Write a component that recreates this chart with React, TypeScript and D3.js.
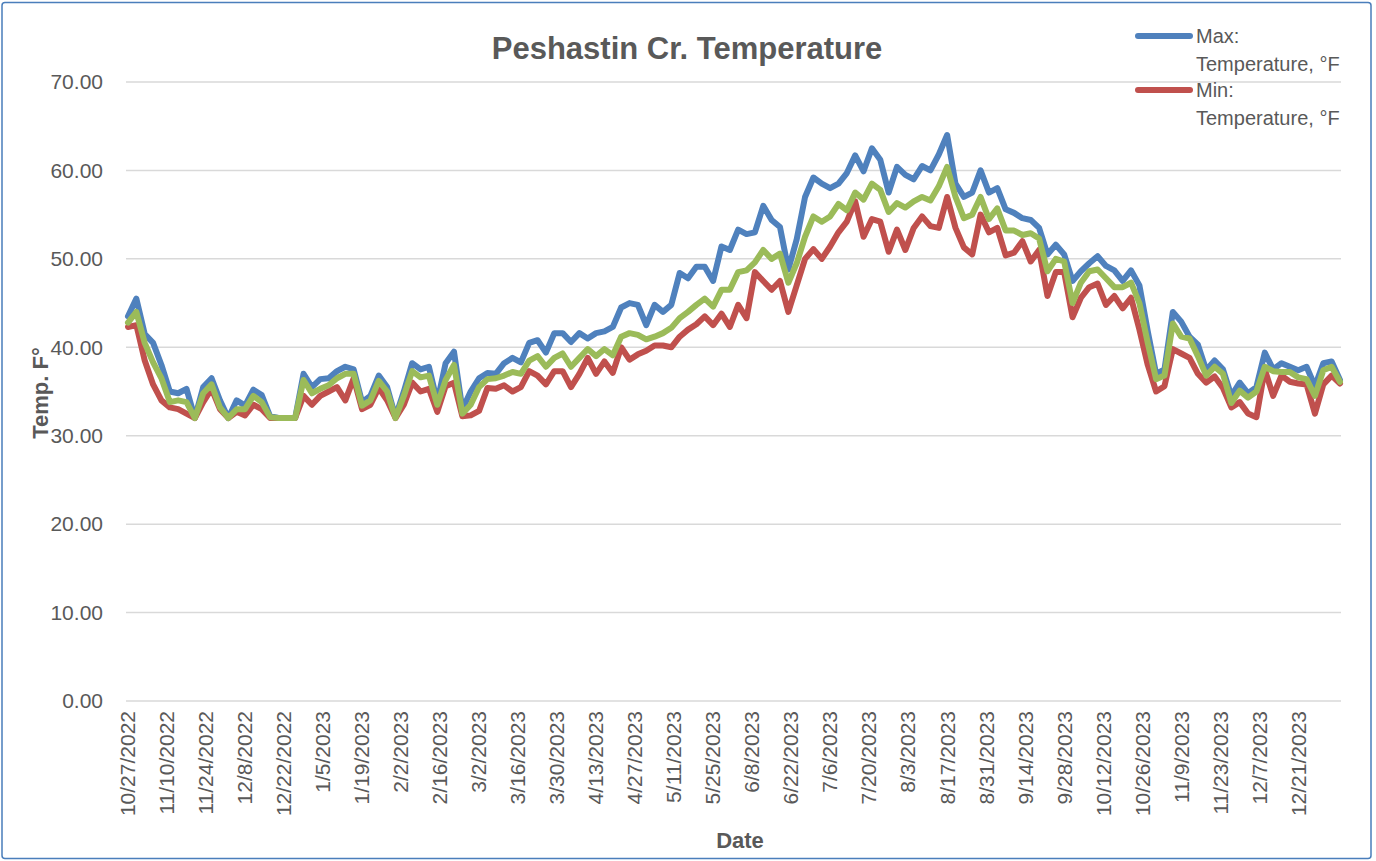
import React from "react";
import * as d3 from "d3";

const START_DATE = new Date(2022, 9, 27);
const STEP_DAYS = 3;
const END_OFFSET_DAYS = 435;
const TICK_STEP_DAYS = 14;
const TICK_COUNT = 31;
const Y_TICKS = [0, 10, 20, 30, 40, 50, 60, 70];

const maxTemp = [
  43.5, 45.5, 41.5, 40.5, 38.0, 35.0, 34.8, 35.3, 32.0, 35.5, 36.5, 34.0, 32.0, 34.0, 33.4, 35.2, 34.6, 32.2, 32.0, 32.0, 32.0, 37.0, 35.5, 36.4, 36.5, 37.3, 37.8, 37.5, 33.8, 34.5, 36.8, 35.5, 32.1, 35.0, 38.2, 37.5, 37.8,
  33.8, 38.2, 39.5, 33.0, 35.0, 36.5, 37.1, 37.0, 38.2, 38.8, 38.3, 40.5, 40.8, 39.4, 41.6, 41.6, 40.6, 41.6, 41.0, 41.6, 41.8, 42.3, 44.5, 45.0, 44.8, 42.5, 44.8, 44.0, 44.8, 48.4, 47.8, 49.1, 49.1, 47.5, 51.4, 51.0, 53.3,
  52.8, 53.0, 56.0, 54.4, 53.6, 48.8, 52.2, 57.0, 59.2, 58.5, 58.0, 58.5, 59.7, 61.7, 59.9, 62.5, 61.2, 57.5, 60.4, 59.5, 59.0, 60.5, 60.0, 61.8, 64.0, 58.5, 57.0, 57.5, 60.0, 57.5, 58.0, 55.6, 55.2, 54.6, 54.4, 53.5, 50.5,
  51.6, 50.5, 47.5, 48.6, 49.5, 50.3, 49.2, 48.7, 47.5, 48.7, 47.0, 41.8, 37.0, 37.5, 44.0, 42.9, 41.2, 40.3, 37.4, 38.5, 37.5, 34.5, 36.0, 34.8, 35.5, 39.4, 37.5, 38.2, 37.8, 37.4, 37.8, 35.6, 38.2, 38.4, 36.3,
];

const avgTemp = [
  42.8, 44.0, 40.5, 38.3, 36.5, 33.8, 34.0, 33.8, 32.0, 34.8, 35.8, 33.2, 32.0, 33.0, 33.0, 34.5, 33.8, 32.1, 32.0, 32.0, 32.0, 36.3, 34.8, 35.3, 35.7, 36.5, 37.0, 37.0, 33.4, 34.0, 36.2, 35.0, 32.0, 34.5, 37.3, 36.6, 36.8,
  33.5, 36.3, 38.0, 32.5, 33.5, 35.5, 36.4, 36.5, 36.8, 37.2, 37.0, 38.5, 39.0, 37.8, 38.8, 39.3, 37.8, 38.8, 39.8, 39.0, 39.8, 39.1, 41.2, 41.6, 41.4, 40.9, 41.2, 41.6, 42.2, 43.3, 44.0, 44.8, 45.5, 44.6, 46.5, 46.5, 48.5,
  48.7, 49.6, 51.0, 50.0, 50.6, 47.3, 49.5, 52.5, 54.8, 54.2, 54.8, 56.2, 55.5, 57.5, 56.7, 58.5, 57.8, 55.3, 56.3, 55.8, 56.5, 57.0, 56.6, 58.2, 60.4, 57.0, 54.6, 55.0, 57.0, 54.5, 55.7, 53.2, 53.2, 52.7, 52.9, 52.3, 48.6,
  50.0, 49.7, 45.0, 47.3, 48.6, 48.8, 47.8, 46.8, 46.8, 47.3, 45.0, 40.5, 36.4, 36.8, 42.7, 41.2, 41.0, 39.0, 36.8, 37.8, 37.0, 33.7, 35.1, 34.3, 35.0, 37.8, 37.3, 37.2, 37.2, 36.6, 36.4, 34.5, 37.4, 37.8, 36.1,
];

const minTemp = [
  42.3, 42.5, 38.5, 35.8, 34.0, 33.2, 33.0, 32.5, 32.0, 33.8, 35.3, 33.0, 32.0, 32.7, 32.3, 33.5, 33.0, 32.0, 32.0, 32.0, 32.0, 34.5, 33.5, 34.5, 35.0, 35.5, 34.0, 36.5, 33.0, 33.5, 35.4, 34.0, 32.0, 33.5, 36.0, 35.0, 35.3,
  32.7, 35.6, 36.0, 32.2, 32.3, 32.8, 35.4, 35.3, 35.7, 35.0, 35.5, 37.3, 36.8, 35.8, 37.3, 37.3, 35.5, 37.0, 38.8, 37.0, 38.4, 37.1, 40.0, 38.6, 39.2, 39.6, 40.2, 40.2, 40.0, 41.2, 42.0, 42.6, 43.5, 42.5, 43.8, 42.3, 44.8,
  43.3, 48.5, 47.5, 46.5, 47.5, 44.0, 47.0, 50.0, 51.1, 50.0, 51.4, 53.0, 54.2, 56.5, 52.5, 54.5, 54.2, 50.8, 53.3, 51.0, 53.5, 54.8, 53.7, 53.5, 57.0, 53.5, 51.3, 50.5, 55.0, 53.0, 53.5, 50.4, 50.7, 52.0, 49.7, 51.0, 45.8,
  48.5, 48.5, 43.4, 45.6, 46.8, 47.2, 44.8, 45.8, 44.4, 45.6, 42.0, 38.0, 35.0, 35.6, 39.8, 39.3, 38.8, 37.0, 36.0, 36.7, 35.4, 33.2, 33.8, 32.5, 32.1, 37.5, 34.5, 36.8, 36.1, 35.9, 35.8, 32.5, 35.8, 36.8, 35.9,
];

const TITLE = "Peshastin Cr. Temperature";
const Y_TITLE = "Temp. F°";
const X_TITLE = "Date";
const LEGEND = [
  { l1: "Max:", l2: "Temperature, °F", color: "#4F81BD" },
  { l1: "Min:", l2: "Temperature, °F", color: "#C0504D" },
];

const W = 1376;
const H = 861;
const FONT = "'Liberation Sans', Arial, sans-serif";
const TEXT = "#595959";

export default function App() {
  const dates = maxTemp.map((_, i) => d3.timeDay.offset(START_DATE, i * STEP_DAYS));
  const x = d3
    .scaleTime()
    .domain([START_DATE, d3.timeDay.offset(START_DATE, END_OFFSET_DAYS)])
    .range([128, 1340]);
  const y = d3.scaleLinear().domain([0, 70]).range([701, 82]);
  const line = d3
    .line<number>()
    .x((_, i) => x(dates[i]))
    .y((d) => y(d))
    .curve(d3.curveLinear);

  const ticks = d3.range(TICK_COUNT).map((k) => d3.timeDay.offset(START_DATE, k * TICK_STEP_DAYS));
  const fmt = (d: Date) => `${d.getMonth() + 1}/${d.getDate()}/${d.getFullYear()}`;

  const series = [
    { data: maxTemp, color: "#4F81BD" },
    { data: minTemp, color: "#C0504D" },
    { data: avgTemp, color: "#9BBB59" },
  ];

  return (
    <svg
      width={W}
      height={H}
      style={{ position: "absolute", left: 0, top: 0, background: "#fff" }}
      fontFamily={FONT}
    >
      <rect x={2} y={2.5} width={1369} height={856} rx={3} fill="#fff" stroke="#4A7EBB" strokeWidth={1.5} />
      {Y_TICKS.map((t) => (
        <g key={t}>
          <line x1={126} x2={1341} y1={y(t)} y2={y(t)} stroke="#D9D9D9" strokeWidth={1.5} />
          <text x={103} y={y(t)} dy="0.35em" textAnchor="end" fontSize={21} fill={TEXT}>
            {t.toFixed(2)}
          </text>
        </g>
      ))}
      {ticks.map((d, k) => (
        <text
          key={k}
          transform={`translate(${x(d)},711) rotate(-90)`}
          dy="0.35em"
          textAnchor="end"
          fontSize={21}
          fill={TEXT}
        >
          {fmt(d)}
        </text>
      ))}
      {series.map((s, k) => (
        <path
          key={k}
          d={line(s.data) || ""}
          fill="none"
          stroke={s.color}
          strokeWidth={6}
          strokeLinejoin="round"
          strokeLinecap="round"
        />
      ))}
      <text x={687} y={59} textAnchor="middle" fontSize={31} fontWeight="bold" fill={TEXT}>
        {TITLE}
      </text>
      <text
        transform="translate(40,393) rotate(-90)"
        dy="0.35em"
        textAnchor="middle"
        fontSize={22}
        fontWeight="bold"
        fill={TEXT}
      >
        {Y_TITLE}
      </text>
      <text x={740} y={848} textAnchor="middle" fontSize={22} fontWeight="bold" fill={TEXT}>
        {X_TITLE}
      </text>
      {LEGEND.map((l, k) => (
        <g key={k} transform={`translate(0,${k * 54})`}>
          <line x1={1138} x2={1190} y1={36} y2={36} stroke={l.color} strokeWidth={6} strokeLinecap="round" />
          <text x={1196} y={36} dy="0.35em" fontSize={20} fill={TEXT}>
            {l.l1}
          </text>
          <text x={1196} y={64} dy="0.35em" fontSize={20} fill={TEXT}>
            {l.l2}
          </text>
        </g>
      ))}
    </svg>
  );
}
